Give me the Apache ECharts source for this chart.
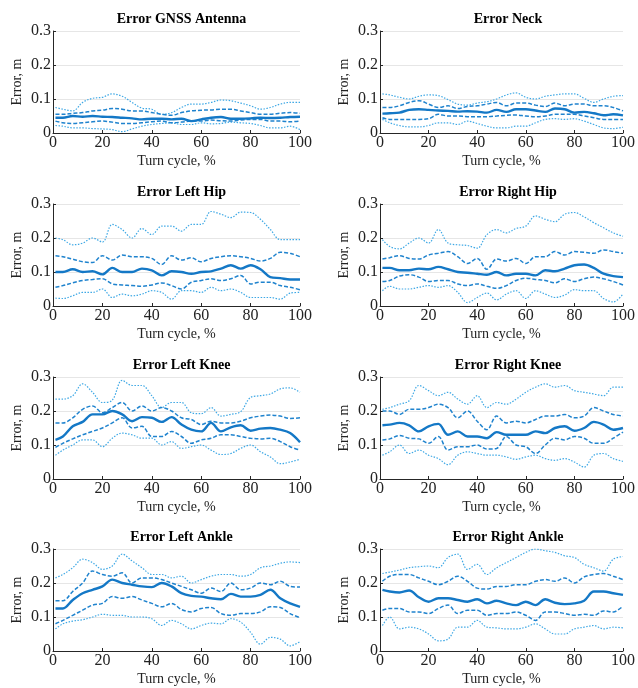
<!DOCTYPE html>
<html>
<head>
<meta charset="utf-8">
<script src="https://cdn.jsdelivr.net/npm/echarts@6/dist/echarts.min.js"></script>
<style>
  html, body { margin: 0; padding: 0; background: #fff; }
  #main { width: 638px; height: 688px; }
</style>
</head>
<body>
<div id="main"></div>
<script>
// turn cycle samples, %
var turnCycle = [1, 4, 8, 12, 16, 20, 24, 28, 32, 36, 40, 44, 48, 52, 56, 60, 64, 68, 72, 76, 80, 84, 88, 92, 96, 100];
var xTicks = [0, 20, 40, 60, 80, 100];
var yTicks = [0, 0.1, 0.2, 0.3];

// GNSS antenna
var gnssMed = [0.045, 0.045, 0.05, 0.048, 0.05, 0.048, 0.047, 0.045, 0.043, 0.04, 0.042, 0.042, 0.04, 0.042, 0.035, 0.04, 0.045, 0.047, 0.042, 0.042, 0.043, 0.045, 0.044, 0.045, 0.047, 0.048];
var gnssQ75 = [0.055, 0.055, 0.058, 0.06, 0.065, 0.067, 0.072, 0.07, 0.065, 0.065, 0.06, 0.055, 0.052, 0.06, 0.065, 0.067, 0.068, 0.07, 0.07, 0.065, 0.06, 0.055, 0.055, 0.058, 0.06, 0.058];
var gnssQ25 = [0.035, 0.03, 0.028, 0.03, 0.033, 0.035, 0.032, 0.028, 0.028, 0.03, 0.033, 0.035, 0.03, 0.032, 0.035, 0.035, 0.038, 0.036, 0.035, 0.038, 0.04, 0.04, 0.035, 0.035, 0.033, 0.035];
var gnssHi = [0.075, 0.07, 0.065, 0.09, 0.102, 0.105, 0.115, 0.108, 0.09, 0.073, 0.07, 0.055, 0.06, 0.075, 0.085, 0.085, 0.09, 0.097, 0.095, 0.088, 0.08, 0.07, 0.075, 0.085, 0.09, 0.09];
var gnssLo = [0.022, 0.02, 0.015, 0.015, 0.013, 0.012, 0.01, 0.004, 0.012, 0.02, 0.025, 0.028, 0.03, 0.025, 0.025, 0.03, 0.027, 0.028, 0.032, 0.03, 0.028, 0.022, 0.015, 0.015, 0.02, 0.01];

// neck
var neckMed = [0.057, 0.058, 0.06, 0.068, 0.07, 0.068, 0.066, 0.065, 0.063, 0.064, 0.063, 0.06, 0.068, 0.062, 0.07, 0.07, 0.066, 0.062, 0.072, 0.07, 0.06, 0.062, 0.058, 0.052, 0.055, 0.052];
var neckQ75 = [0.075, 0.075, 0.08, 0.09, 0.095, 0.085, 0.075, 0.08, 0.072, 0.078, 0.08, 0.085, 0.09, 0.08, 0.088, 0.088, 0.082, 0.078, 0.088, 0.08, 0.085, 0.085, 0.08, 0.08, 0.075, 0.065];
var neckQ25 = [0.045, 0.04, 0.04, 0.04, 0.04, 0.042, 0.055, 0.05, 0.05, 0.048, 0.048, 0.048, 0.05, 0.052, 0.053, 0.05, 0.048, 0.05, 0.055, 0.055, 0.055, 0.05, 0.045, 0.04, 0.04, 0.04];
var neckHi = [0.115, 0.112, 0.105, 0.1, 0.108, 0.112, 0.11, 0.098, 0.085, 0.082, 0.088, 0.092, 0.1, 0.112, 0.118, 0.105, 0.1, 0.108, 0.112, 0.115, 0.115, 0.102, 0.09, 0.1, 0.108, 0.11];
var neckLo = [0.04, 0.03, 0.022, 0.018, 0.018, 0.022, 0.03, 0.03, 0.025, 0.035, 0.028, 0.02, 0.015, 0.015, 0.02, 0.02, 0.03, 0.04, 0.042, 0.04, 0.042, 0.035, 0.025, 0.015, 0.013, 0.017];

// left hip
var lHipMed = [0.1, 0.1, 0.108, 0.1, 0.102, 0.093, 0.112, 0.1, 0.1, 0.11, 0.105, 0.09, 0.102, 0.1, 0.095, 0.1, 0.102, 0.11, 0.12, 0.11, 0.12, 0.108, 0.085, 0.082, 0.078, 0.078];
var lHipQ75 = [0.148, 0.145, 0.138, 0.13, 0.128, 0.148, 0.135, 0.15, 0.145, 0.145, 0.14, 0.122, 0.148, 0.135, 0.142, 0.13, 0.14, 0.145, 0.148, 0.145, 0.14, 0.132, 0.14, 0.158, 0.155, 0.145];
var lHipQ25 = [0.055, 0.06, 0.068, 0.075, 0.078, 0.08, 0.065, 0.062, 0.06, 0.058, 0.062, 0.068, 0.06, 0.05, 0.07, 0.075, 0.08, 0.075, 0.08, 0.09, 0.065, 0.07, 0.07, 0.06, 0.055, 0.048];
var lHipHi = [0.2, 0.195, 0.18, 0.185, 0.2, 0.188, 0.24, 0.225, 0.2, 0.228, 0.21, 0.235, 0.235, 0.22, 0.24, 0.24, 0.278, 0.27, 0.26, 0.276, 0.275, 0.255, 0.225, 0.195, 0.195, 0.195];
var lHipLo = [0.023, 0.022, 0.03, 0.04, 0.04, 0.05, 0.025, 0.035, 0.03, 0.035, 0.045, 0.04, 0.02, 0.045, 0.045, 0.04, 0.055, 0.045, 0.05, 0.04, 0.025, 0.025, 0.025, 0.02, 0.038, 0.04];

// right hip
var rHipMed = [0.112, 0.112, 0.105, 0.105, 0.11, 0.108, 0.115, 0.108, 0.1, 0.098, 0.095, 0.092, 0.1, 0.09, 0.095, 0.095, 0.09, 0.105, 0.102, 0.11, 0.12, 0.122, 0.112, 0.095, 0.088, 0.085];
var rHipQ75 = [0.138, 0.142, 0.148, 0.14, 0.138, 0.15, 0.155, 0.16, 0.145, 0.125, 0.14, 0.108, 0.138, 0.132, 0.14, 0.125, 0.145, 0.145, 0.16, 0.15, 0.16, 0.158, 0.155, 0.165, 0.16, 0.155];
var rHipQ25 = [0.072, 0.075, 0.088, 0.092, 0.085, 0.072, 0.075, 0.075, 0.065, 0.06, 0.065, 0.058, 0.052, 0.06, 0.075, 0.082, 0.078, 0.075, 0.068, 0.08, 0.072, 0.08, 0.085, 0.08, 0.072, 0.062];
var rHipHi = [0.195, 0.175, 0.168, 0.185, 0.2, 0.185, 0.225, 0.185, 0.18, 0.178, 0.17, 0.21, 0.225, 0.215, 0.228, 0.235, 0.265, 0.255, 0.248, 0.27, 0.275, 0.262, 0.245, 0.23, 0.215, 0.205];
var rHipLo = [0.045, 0.058, 0.05, 0.05, 0.055, 0.06, 0.055, 0.06, 0.04, 0.01, 0.025, 0.038, 0.018, 0.035, 0.045, 0.022, 0.045, 0.035, 0.025, 0.032, 0.048, 0.045, 0.045, 0.022, 0.012, 0.035];

// left knee
var lKneeMed = [0.115, 0.125, 0.155, 0.168, 0.19, 0.19, 0.2, 0.19, 0.17, 0.182, 0.18, 0.168, 0.182, 0.16, 0.145, 0.14, 0.165, 0.14, 0.152, 0.158, 0.142, 0.148, 0.15, 0.145, 0.135, 0.108];
var lKneeQ75 = [0.165, 0.165, 0.18, 0.205, 0.215, 0.195, 0.21, 0.225, 0.2, 0.215, 0.2, 0.21, 0.2, 0.18, 0.175, 0.16, 0.17, 0.165, 0.165, 0.17, 0.18, 0.185, 0.188, 0.185, 0.178, 0.18];
var lKneeQ25 = [0.093, 0.105, 0.118, 0.13, 0.14, 0.15, 0.165, 0.18, 0.15, 0.155, 0.125, 0.125, 0.14, 0.125, 0.105, 0.115, 0.12, 0.13, 0.13, 0.125, 0.12, 0.118, 0.12, 0.11, 0.095, 0.085];
var lKneeHi = [0.235, 0.235, 0.245, 0.28, 0.255, 0.225, 0.232, 0.29, 0.275, 0.275, 0.245, 0.21, 0.225, 0.225, 0.195, 0.192, 0.21, 0.185, 0.19, 0.198, 0.24, 0.245, 0.25, 0.265, 0.268, 0.255];
var lKneeLo = [0.07, 0.085, 0.1, 0.115, 0.115, 0.095, 0.12, 0.135, 0.13, 0.12, 0.12, 0.1, 0.11, 0.09, 0.095, 0.1, 0.085, 0.072, 0.075, 0.09, 0.1, 0.08, 0.065, 0.045, 0.05, 0.058];

// right knee
var rKneeMed = [0.158, 0.16, 0.165, 0.158, 0.14, 0.155, 0.162, 0.13, 0.14, 0.125, 0.125, 0.12, 0.138, 0.13, 0.13, 0.13, 0.14, 0.135, 0.15, 0.155, 0.142, 0.15, 0.168, 0.16, 0.145, 0.15];
var rKneeQ75 = [0.2, 0.2, 0.19, 0.205, 0.205, 0.21, 0.22, 0.21, 0.18, 0.2, 0.17, 0.145, 0.185, 0.165, 0.17, 0.165, 0.175, 0.185, 0.185, 0.19, 0.18, 0.185, 0.21, 0.2, 0.19, 0.185];
var rKneeQ25 = [0.115, 0.118, 0.128, 0.12, 0.118, 0.105, 0.125, 0.085, 0.095, 0.095, 0.1, 0.088, 0.09, 0.125, 0.1, 0.095, 0.075, 0.1, 0.12, 0.115, 0.125, 0.12, 0.105, 0.105, 0.12, 0.138];
var rKneeHi = [0.205, 0.21, 0.22, 0.23, 0.275, 0.26, 0.245, 0.255, 0.235, 0.22, 0.245, 0.21, 0.225, 0.22, 0.235, 0.255, 0.27, 0.28, 0.27, 0.275, 0.26, 0.255, 0.25, 0.245, 0.27, 0.27];
var rKneeLo = [0.07, 0.08, 0.1, 0.075, 0.085, 0.07, 0.06, 0.042, 0.07, 0.08, 0.075, 0.07, 0.07, 0.065, 0.058, 0.065, 0.07, 0.06, 0.055, 0.06, 0.05, 0.035, 0.07, 0.075, 0.06, 0.052];

// left ankle
var lAnkleMed = [0.125, 0.125, 0.15, 0.17, 0.18, 0.19, 0.21, 0.2, 0.195, 0.19, 0.188, 0.2, 0.19, 0.17, 0.162, 0.16, 0.155, 0.152, 0.168, 0.16, 0.16, 0.165, 0.18, 0.155, 0.14, 0.13];
var lAnkleQ75 = [0.148, 0.148, 0.175, 0.2, 0.235, 0.225, 0.22, 0.23, 0.2, 0.215, 0.215, 0.21, 0.2, 0.19, 0.18, 0.17, 0.185, 0.175, 0.2, 0.18, 0.185, 0.2, 0.195, 0.205, 0.19, 0.188];
var lAnkleQ25 = [0.08, 0.09, 0.105, 0.12, 0.135, 0.14, 0.16, 0.155, 0.16, 0.15, 0.14, 0.13, 0.14, 0.122, 0.115, 0.125, 0.128, 0.11, 0.105, 0.11, 0.11, 0.115, 0.13, 0.128, 0.11, 0.098];
var lAnkleHi = [0.215, 0.225, 0.245, 0.27, 0.26, 0.24, 0.25, 0.285, 0.265, 0.245, 0.225, 0.225, 0.215, 0.22, 0.2, 0.21, 0.22, 0.225, 0.225, 0.22, 0.225, 0.245, 0.25, 0.258, 0.262, 0.26];
var lAnkleLo = [0.065, 0.08, 0.088, 0.092, 0.1, 0.108, 0.105, 0.105, 0.1, 0.1, 0.095, 0.075, 0.09, 0.08, 0.065, 0.075, 0.082, 0.08, 0.095, 0.085, 0.055, 0.02, 0.04, 0.035, 0.015, 0.028];

// right ankle
var rAnkleMed = [0.18, 0.175, 0.172, 0.178, 0.158, 0.145, 0.155, 0.155, 0.15, 0.145, 0.152, 0.14, 0.148, 0.14, 0.135, 0.145, 0.135, 0.152, 0.142, 0.138, 0.14, 0.148, 0.175, 0.175, 0.17, 0.165];
var rAnkleQ75 = [0.205, 0.22, 0.225, 0.225, 0.215, 0.205, 0.195, 0.205, 0.22, 0.205, 0.185, 0.182, 0.19, 0.19, 0.195, 0.195, 0.205, 0.21, 0.205, 0.215, 0.2, 0.218, 0.225, 0.228, 0.22, 0.21];
var rAnkleQ25 = [0.12, 0.125, 0.125, 0.115, 0.115, 0.11, 0.125, 0.135, 0.11, 0.12, 0.12, 0.105, 0.11, 0.11, 0.115, 0.105, 0.09, 0.115, 0.115, 0.11, 0.105, 0.108, 0.105, 0.118, 0.115, 0.132];
var rAnkleHi = [0.228, 0.232, 0.238, 0.245, 0.248, 0.25, 0.245, 0.275, 0.285, 0.24, 0.255, 0.225, 0.245, 0.26, 0.275, 0.29, 0.3, 0.295, 0.29, 0.28, 0.275, 0.255, 0.245, 0.235, 0.27, 0.278];
var rAnkleLo = [0.075, 0.1, 0.065, 0.07, 0.065, 0.05, 0.03, 0.035, 0.07, 0.07, 0.09, 0.07, 0.068, 0.065, 0.065, 0.07, 0.08, 0.065, 0.05, 0.05, 0.065, 0.07, 0.075, 0.065, 0.07, 0.068];

var panels = [
  { title: 'Error GNSS Antenna', med: gnssMed, q75: gnssQ75, q25: gnssQ25, hi: gnssHi, lo: gnssLo },
  { title: 'Error Neck', med: neckMed, q75: neckQ75, q25: neckQ25, hi: neckHi, lo: neckLo },
  { title: 'Error Left Hip', med: lHipMed, q75: lHipQ75, q25: lHipQ25, hi: lHipHi, lo: lHipLo },
  { title: 'Error Right Hip', med: rHipMed, q75: rHipQ75, q25: rHipQ25, hi: rHipHi, lo: rHipLo },
  { title: 'Error Left Knee', med: lKneeMed, q75: lKneeQ75, q25: lKneeQ25, hi: lKneeHi, lo: lKneeLo },
  { title: 'Error Right Knee', med: rKneeMed, q75: rKneeQ75, q25: rKneeQ25, hi: rKneeHi, lo: rKneeLo },
  { title: 'Error Left Ankle', med: lAnkleMed, q75: lAnkleQ75, q25: lAnkleQ25, hi: lAnkleHi, lo: lAnkleLo },
  { title: 'Error Right Ankle', med: rAnkleMed, q75: rAnkleQ75, q25: rAnkleQ25, hi: rAnkleHi, lo: rAnkleLo }
];

var font = '"Liberation Serif", "Times New Roman", serif';
var colLeft = [53, 380];
var colWidth = [247, 246];
var rowTop = [31, 204, 377, 549];
var plotH = 102;

function pairs(arr) {
  return turnCycle.map(function (x, i) { return [x, arr[i]]; });
}

var grids = [], xAxes = [], yAxes = [], titles = [], series = [];

panels.forEach(function (p, k) {
  var col = k % 2, row = Math.floor(k / 2);
  grids.push({ left: colLeft[col], top: rowTop[row], width: colWidth[col], height: plotH });
  titles.push({
    text: p.title,
    left: colLeft[col] + colWidth[col] / 2,
    top: rowTop[row] - 24,
    textAlign: 'center',
    textStyle: { fontFamily: font, fontWeight: 'bold', fontSize: 14, color: '#000' }
  });
  xAxes.push({
    gridIndex: k, type: 'value', min: xTicks[0], max: xTicks[xTicks.length - 1], interval: 20,
    name: 'Turn cycle, %', nameLocation: 'middle', nameGap: 21,
    nameTextStyle: { fontFamily: font, fontSize: 14, color: '#222' },
    axisLine: { onZero: false, lineStyle: { color: '#262626', width: 1 } },
    axisTick: { show: true, inside: true, length: 3, lineStyle: { color: '#262626' } },
    axisLabel: { fontFamily: font, fontSize: 16, color: '#222', margin: 2 },
    splitLine: { show: false }
  });
  yAxes.push({
    gridIndex: k, type: 'value', min: yTicks[0], max: yTicks[yTicks.length - 1], interval: 0.1,
    name: 'Error, m', nameLocation: 'middle', nameGap: 29,
    nameTextStyle: { fontFamily: font, fontSize: 14, color: '#222' },
    axisLine: { show: true, lineStyle: { color: '#262626', width: 1 } },
    axisTick: { show: true, inside: true, length: 3, lineStyle: { color: '#262626' } },
    axisLabel: { fontFamily: font, fontSize: 16, color: '#222', margin: 2 },
    splitLine: { show: true, lineStyle: { color: '#e6e6e6', width: 1 } }
  });
  var lines = [
    { d: p.hi, type: [1.5, 1.5], w: 1.2, c: '#3ea8e5' },
    { d: p.lo, type: [1.5, 1.5], w: 1.2, c: '#3ea8e5' },
    { d: p.q75, type: [4, 2], w: 1.5, c: '#1f83ce' },
    { d: p.q25, type: [4, 2], w: 1.5, c: '#1f83ce' },
    { d: p.med, type: 'solid', w: 2.4, c: '#1478c6' }
  ];
  lines.forEach(function (l) {
    series.push({
      type: 'line', xAxisIndex: k, yAxisIndex: k, data: pairs(l.d),
      showSymbol: false, smooth: 0.35, silent: true,
      lineStyle: { color: l.c, width: l.w, type: l.type }
    });
  });
});

var myChart = echarts.init(document.getElementById('main'));
myChart.setOption({
  animation: false,
  backgroundColor: '#fff',
  title: titles,
  grid: grids,
  xAxis: xAxes,
  yAxis: yAxes,
  series: series
});
</script>
</body>
</html>
